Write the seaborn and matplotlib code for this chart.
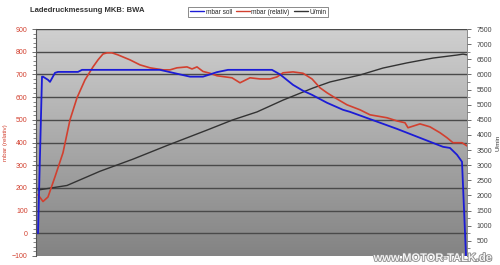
import numpy as np
import pandas as pd
import matplotlib
matplotlib.use("Agg")
import matplotlib.pyplot as plt
import matplotlib.patheffects as pe
from matplotlib.lines import Line2D
import seaborn as sns

sns.set_theme(style="white")
plt.rcParams['font.family'] = ['Liberation Sans', 'DejaVu Sans']

# sample index (time axis, no labels in the original)
soll_x = [0, 0.8, 1, 2, 2.4, 3.4, 4, 8, 8.8, 24.4, 27.4, 30.4, 33, 35.8, 38, 46.8, 48.4,
          51, 53, 54.8, 57.8, 61, 62.4, 71.8, 81, 82.4, 83.8, 84.8, 85.6]
soll_v = [0, 690, 690, 676, 667, 707, 711, 711, 720, 720, 705, 690, 690, 710, 720, 720, 700,
          654, 628, 610, 575, 544, 535, 460, 381, 376, 346, 315, -100]

ist_x = [0, 1, 2, 3.4, 5, 6.4, 7.8, 9.4, 11, 12, 13, 13.8, 14.8, 16, 18.4, 20.4, 22.4, 25,
         26.4, 27.8, 29.8, 30.8, 31.8, 33, 34.4, 35.8, 38.8, 40.4, 42.4, 44.4, 46.4, 47.8,
         49, 51, 53, 54.8, 56.4, 57.8, 59.4, 61.8, 64.4, 66.4, 69.8, 71.8, 73.4, 74,
         76.4, 78.4, 80.4, 81.8, 83, 84.8, 85.8]
ist_v = [170, 140, 160, 249, 355, 500, 597, 676, 733, 764, 790, 795, 795, 786, 764, 742,
         729, 720, 720, 729, 733, 724, 733, 713, 705, 694, 685, 663, 685, 680, 680, 689,
         707, 711, 705, 680, 641, 619, 597, 566, 544, 522, 509, 495, 487, 465, 482,
         469, 443, 421, 399, 399, 385]

rpm_x = [0, 5.8, 12.4, 19, 25.8, 33.8, 39, 43.8, 49, 55, 58.4, 64.4, 69, 73.8, 79,
         83.8, 85, 86]
rpm_v = [2180, 2330, 2800, 3200, 3650, 4160, 4500, 4760, 5150, 5550, 5750, 5980, 6210,
         6380, 6540, 6640, 6670, 6640]

left_ticks = list(range(-100, 1000, 100))
right_ticks = list(range(0, 8000, 500))
right_labels = [""] + [str(t) for t in right_ticks[1:]]

red = "#d2402f"
blue = "#1c1cd6"
dark = "#333333"

fig = plt.figure(figsize=(5.0, 2.65), dpi=100)
rect = [36/500, 1-256/265, (467-36)/500, (256-29)/265]

# background axes with gradient
bg = fig.add_axes(rect, zorder=0)
grad = np.linspace(0, 1, 256).reshape(-1, 1)
cmap = matplotlib.colors.LinearSegmentedColormap.from_list("g", ["#d0d0d0", "#838383"])
bg.imshow(grad, aspect="auto", cmap=cmap, extent=[0, 1, 0, 1], origin="upper")
bg.set_xlim(0, 1)
bg.set_ylim(0, 1)
bg.set_axis_off()

ax = fig.add_axes(rect, zorder=2)
ax.patch.set_visible(False)
ax2 = ax.twinx()
ax2.set_zorder(1)
ax2.patch.set_visible(False)

for t in left_ticks[1:]:
    bg.axhline((t + 100) / 1000, color="#4a4a4a", lw=1.0, zorder=1)

df_soll = pd.DataFrame({"x": soll_x, "v": soll_v})
df_ist = pd.DataFrame({"x": ist_x, "v": ist_v})
df_rpm = pd.DataFrame({"x": rpm_x, "v": rpm_v})

sns.lineplot(data=df_soll, x="x", y="v", ax=ax, color=blue, lw=1.3, sort=False, zorder=4)
sns.lineplot(data=df_ist, x="x", y="v", ax=ax, color=red, lw=1.2, sort=False, zorder=3)
sns.lineplot(data=df_rpm, x="x", y="v", ax=ax2, color=dark, lw=1.0, sort=False, zorder=2)

ax.set_xlim(-0.4, 85.8)
ax.set_ylim(-100, 900)
ax2.set_ylim(0, 7500)
ax.set_xticks([])
ax.set_yticks(left_ticks)
ax.set_yticks(range(-100, 901, 20), minor=True)
ax2.set_yticks(right_ticks)
ax2.set_yticklabels(right_labels)
ax2.set_yticks(range(0, 7501, 250), minor=True)

ax.tick_params(axis="y", which="major", left=True, length=3, width=0.6, labelsize=5,
               labelcolor=red, color="#555555", pad=3)
ax.tick_params(axis="y", which="minor", left=True, length=2, width=0.5, color="#555555")
ax2.tick_params(axis="y", which="major", right=True, length=3, width=0.6, labelsize=5,
                labelcolor="#444444", color="#555555", pad=4)
ax2.tick_params(axis="y", which="minor", right=True, length=2, width=0.5, color="#555555")

for a in (ax, ax2):
    for s in a.spines.values():
        s.set_visible(False)
ax.spines["left"].set_visible(True)
ax.spines["left"].set_color("#555555")
ax.spines["left"].set_linewidth(0.8)
ax2.spines["right"].set_visible(True)
ax2.spines["right"].set_color("#777777")
ax2.spines["right"].set_linewidth(0.6)

ax.set_xlabel("")
ax.set_ylabel("mbar (relativ)", color=red, fontsize=4.5, labelpad=3)
ax2.set_ylabel("U/min", color="#333333", fontsize=4.5, labelpad=2)

fig.text(30/500, 1-11/265, "Ladedruckmessung MKB: BWA", fontsize=5.5, fontweight="bold",
         color="#333333", va="center", ha="left")

handles = [Line2D([], [], color=blue, lw=1), Line2D([], [], color=red, lw=1),
           Line2D([], [], color=dark, lw=1)]
leg = fig.legend(handles, ["mbar soll", "mbar (relativ)", "U/min"], loc="center",
                 bbox_to_anchor=(258/500, 1-12/265), ncol=3, fontsize=4.7, frameon=True,
                 fancybox=False, edgecolor="#555555", handlelength=2.2, handletextpad=0.2,
                 columnspacing=0.6, borderpad=0.3, borderaxespad=0)
leg.get_frame().set_linewidth(0.6)

fig.text(492/500, 1-258/265, "www.MOTOR-TALK.de", fontsize=8, fontweight="bold",
         color="#f4f4f4", ha="right", va="center",
         path_effects=[pe.withStroke(linewidth=1.2, foreground="#8a8a8a")])

fig.savefig("out.png", dpi=100)
